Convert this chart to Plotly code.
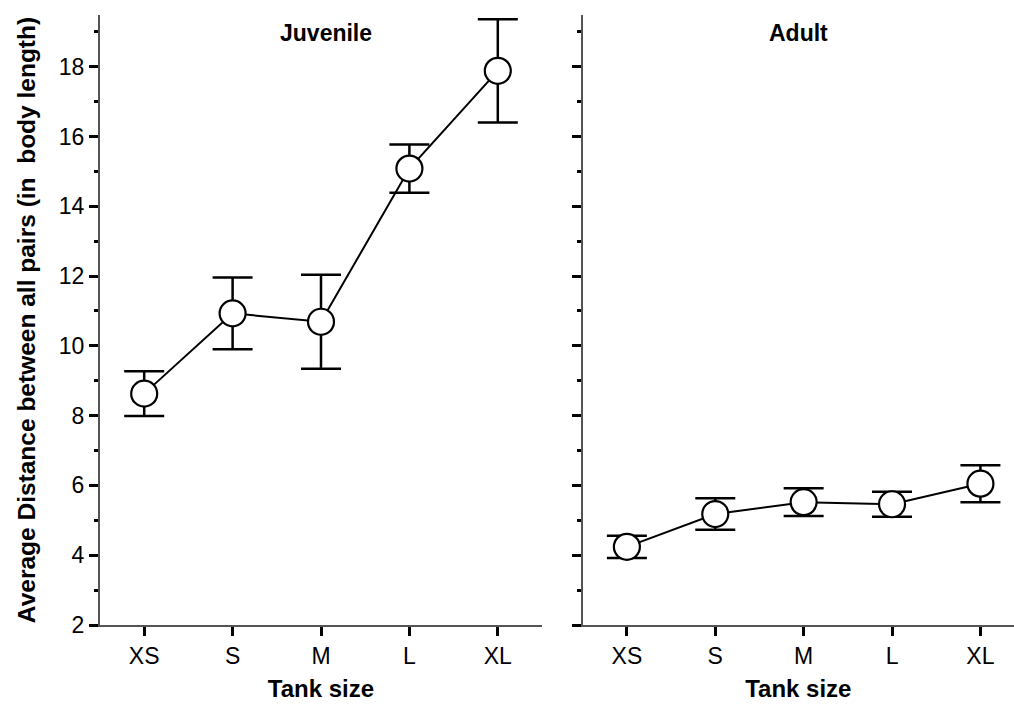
import plotly.graph_objects as go

categories = ["XS", "S", "M", "L", "XL"]
juvenile_mean = [8.63, 10.93, 10.69, 15.08, 17.88]
juvenile_err = [0.64, 1.03, 1.35, 0.69, 1.48]
adult_mean = [4.24, 5.18, 5.52, 5.46, 6.05]
adult_err = [0.32, 0.45, 0.40, 0.36, 0.53]
y_ticks = [2, 4, 6, 8, 10, 12, 14, 16, 18]

xpos = list(range(len(categories)))
FONT = "Liberation Sans, Arial, sans-serif"

fig = go.Figure()

def add_series(mean, err, xa, ya):
    fig.add_trace(go.Scatter(
        x=xpos, y=mean, xaxis=xa, yaxis=ya, mode="lines+markers",
        line=dict(color="black", width=2),
        marker=dict(symbol="circle", size=26, color="white",
                    line=dict(color="black", width=2.2)),
        error_y=dict(type="data", array=err, visible=True, color="black",
                     thickness=2.5, width=20),
        showlegend=False, cliponaxis=False,
    ))

add_series(juvenile_mean, juvenile_err, "x", "y")
add_series(adult_mean, adult_err, "x2", "y2")

W, H = 1014, 704
ml, mr, mt, mb = 100, 0, 15, 79
pw = W - ml - mr
left_end = (542 - ml) / pw
right_start = (582.7 - ml) / pw

axis_common = dict(showline=True, linecolor="#555", linewidth=2, mirror=False,
                   showgrid=False, zeroline=False, ticks="outside",
                   tickcolor="black", color="black",
                   tickfont=dict(family=FONT, size=23, color="black"))

xcommon = dict(axis_common, tickvals=xpos, ticktext=categories, ticklen=9, tickwidth=3,
               title=dict(text="<b>Tank size</b>", font=dict(family=FONT, size=24, color="black"),
                          standoff=13))
ycommon = dict(axis_common, range=[2, 19.48], tickvals=y_ticks, ticklen=9, tickwidth=3,
               minor=dict(ticks="outside", dtick=1, tick0=1, ticklen=4, tickwidth=3,
                          tickcolor="black", showgrid=False))

ytitle = 1 - (33 - mt) / (H - mt - mb)

fig.update_layout(
    width=W, height=H, margin=dict(l=ml, r=mr, t=mt, b=mb, autoexpand=False),
    paper_bgcolor="white", plot_bgcolor="white",
    xaxis=dict(xcommon, domain=[0, left_end], range=[-0.5, 4.5], anchor="y"),
    xaxis2=dict(xcommon, domain=[right_start, 1], range=[-0.5, 4.38], anchor="y2"),
    yaxis=dict(ycommon, anchor="x",
               title=dict(text="<b>Average Distance between all pairs (in  body length)</b>",
                          font=dict(family=FONT, size=24.5, color="black"), standoff=16)),
    yaxis2=dict(ycommon, anchor="x2", showticklabels=False),
    annotations=[
        dict(text="<b>Juvenile</b>", x=(0 + left_end) / 2 + 0.006, y=ytitle, xref="paper", yref="paper",
             xanchor="center", yanchor="middle",
             showarrow=False, font=dict(family=FONT, size=23, color="black")),
        dict(text="<b>Adult</b>", x=(right_start + 1) / 2, y=ytitle, xref="paper", yref="paper",
             xanchor="center", yanchor="middle",
             showarrow=False, font=dict(family=FONT, size=23, color="black")),
    ],
)

fig.write_html("out.html", config={"displayModeBar": False},
               post_script="document.body.style.margin='0';")
